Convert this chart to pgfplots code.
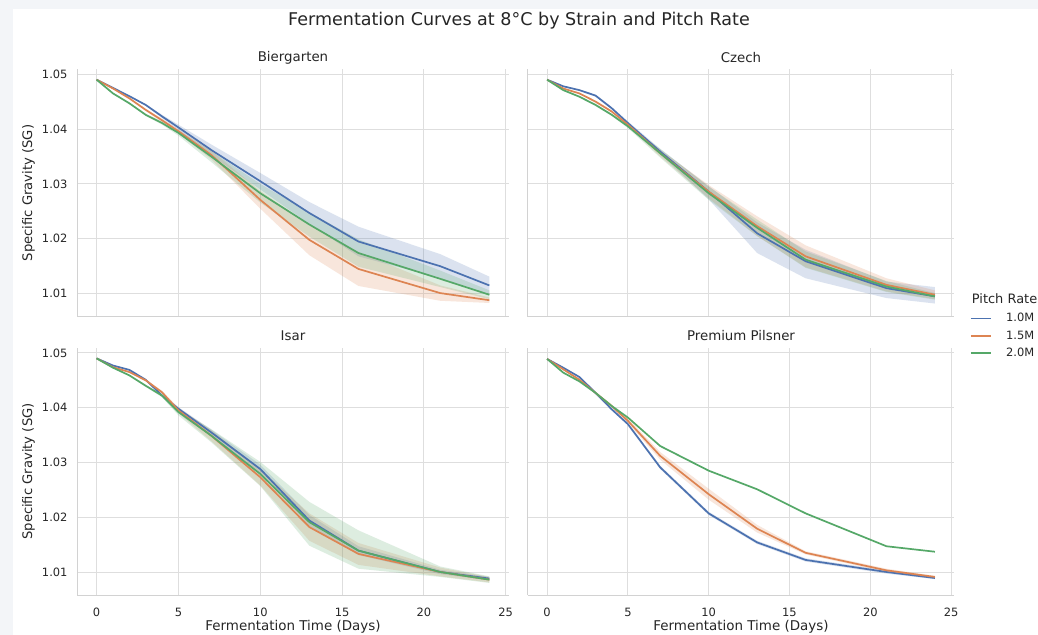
\documentclass[border=0pt]{standalone}
\usepackage{pgfplots}
\pgfplotsset{compat=1.18}
\usepackage{pgfplotstable}
\usepackage{fontspec}
\setmainfont{DejaVu Sans}
\definecolor{cb}{RGB}{76,114,176}
\definecolor{co}{RGB}{221,132,82}
\definecolor{cg}{RGB}{85,168,104}
\definecolor{gridc}{RGB}{222,222,222}
\definecolor{spinec}{RGB}{210,210,210}
\definecolor{txt}{RGB}{38,38,38}
\definecolor{bgc}{RGB}{243,245,248}

% mean curves: day, 1.0M, 1.5M, 2.0M
\pgfplotstableread{
d b o g
0 1.0490 1.0490 1.0490
1 1.0475 1.0474 1.0465
2 1.0460 1.0456 1.0447
3 1.0444 1.0435 1.0426
4 1.0423 1.0416 1.0411
5 1.0403 1.0396 1.0393
7 1.0362 1.0353 1.0350
10 1.0305 1.0271 1.0283
13 1.0247 1.0198 1.0226
16 1.0195 1.0145 1.0174
21 1.0150 1.0101 1.0127
24 1.0115 1.0088 1.0098
}\Bg
\pgfplotstableread{
d b o g
0 1.0490 1.0490 1.0490
1 1.0478 1.0474 1.0471
2 1.0471 1.0465 1.0459
3 1.0461 1.0450 1.0444
4 1.0438 1.0432 1.0426
5 1.0411 1.0408 1.0405
7 1.0359 1.0356 1.0356
10 1.0286 1.0286 1.0283
13 1.0210 1.0223 1.0220
16 1.0159 1.0168 1.0162
21 1.0110 1.0116 1.0113
24 1.0095 1.0098 1.0095
}\Cz
\pgfplotstableread{
d b o g
0 1.0490 1.0490 1.0490
1 1.0477 1.0474 1.0473
2 1.0469 1.0465 1.0459
3 1.0451 1.0450 1.0440
4 1.0422 1.0428 1.0422
5 1.0398 1.0395 1.0392
7 1.0355 1.0349 1.0349
10 1.0288 1.0273 1.0279
13 1.0194 1.0182 1.0191
16 1.0139 1.0133 1.0139
21 1.0100 1.0100 1.0100
24 1.0088 1.0086 1.0086
}\Is
\pgfplotstableread{
d b o g
0 1.0489 1.0489 1.0489
1 1.0473 1.0470 1.0464
2 1.0456 1.0451 1.0448
3 1.0427 1.0427 1.0427
4 1.0397 1.0403 1.0403
5 1.0370 1.0376 1.0382
7 1.0291 1.0312 1.0330
10 1.0207 1.0242 1.0285
13 1.0154 1.0179 1.0251
16 1.0122 1.0135 1.0207
21 1.0100 1.0103 1.0147
24 1.0089 1.0091 1.0137
}\Pp

\newcommand{\mline}[3]{%
  \addplot[#3, line width=1.7bp, forget plot] table[x=d, y=#2] {#1};
}

\pgfplotsset{
  panel/.style={
    scale only axis,
    xmin=-1.2, xmax=25.2, ymin=1.0058, ymax=1.0509,
    xtick={0,5,10,15,20,25},
    ytick={1.01,1.02,1.03,1.04,1.05},
    xticklabels={0,5,10,15,20,25},
    yticklabels={1.01,1.02,1.03,1.04,1.05},
    grid=major,
    grid style={draw=gridc, line width=0.9bp},
    axis lines*=left,
    axis line style={draw=spinec, line width=0.9bp},
    major tick length=0pt,
    tick style={draw=none},
    ticklabel style={font=\fontsize{11.5}{13}\selectfont, text=txt},
    yticklabel style={xshift=-6bp},
    xticklabel style={yshift=-9.5bp},
  },
  nox/.style={xticklabels={}},
  noy/.style={yticklabels={}},
  bandb/.style={fill=cb, fill opacity=0.2, draw=none, forget plot},
  bando/.style={fill=co, fill opacity=0.2, draw=none, forget plot},
  bandg/.style={fill=cg, fill opacity=0.2, draw=none, forget plot},
}

\begin{document}
\begin{tikzpicture}[x=1bp,y=1bp]
\useasboundingbox (0,0) rectangle (1038,635);
\fill[bgc] (0,0) rectangle (1038,635);
\fill[white] (13,0) rectangle (1038,626);

% Top-left: Biergarten
\begin{axis}[panel, nox, at={(77bp,318.3bp)}, anchor=south west, width=432bp, height=247.4bp]
\addplot[bandb] coordinates {(0,1.0491)(1,1.0476)(2,1.0461)(3,1.0445)(4,1.0426)(5,1.0408)(7,1.0372)(10,1.0320)(13,1.0267)(16,1.0222)(21,1.0172)(24,1.0131)
 (24,1.0099)(21,1.0128)(16,1.0168)(13,1.0227)(10,1.0290)(7,1.0352)(5,1.0398)(4,1.0420)(3,1.0443)(2,1.0459)(1,1.0474)(0,1.0489)};
\addplot[bando] coordinates {(0,1.0491)(1,1.0475)(2,1.0457)(3,1.0437)(4,1.0419)(5,1.0400)(7,1.0361)(10,1.0287)(13,1.0226)(16,1.0176)(21,1.0115)(24,1.0093)
 (24,1.0083)(21,1.0087)(16,1.0114)(13,1.0170)(10,1.0255)(7,1.0345)(5,1.0392)(4,1.0413)(3,1.0433)(2,1.0455)(1,1.0473)(0,1.0489)};
\addplot[bandg] coordinates {(0,1.0491)(1,1.0466)(2,1.0448)(3,1.0428)(4,1.0414)(5,1.0398)(7,1.0360)(10,1.0300)(13,1.0248)(16,1.0199)(21,1.0142)(24,1.0106)
 (24,1.0090)(21,1.0112)(16,1.0149)(13,1.0204)(10,1.0266)(7,1.0340)(5,1.0388)(4,1.0408)(3,1.0424)(2,1.0446)(1,1.0464)(0,1.0489)};
\mline{\Bg}{b}{cb}\mline{\Bg}{o}{co}\mline{\Bg}{g}{cg}
\end{axis}

% Top-right: Czech
\begin{axis}[panel, nox, noy, at={(527.7bp,318.3bp)}, anchor=south west, width=426.6bp, height=247.4bp,
  legend style={draw=none, fill=none, at={(axis description cs:1.0363,0.02)}, anchor=north west,
    font=\fontsize{11.5}{13}\selectfont, text=txt, inner sep=0pt, row sep=4.5bp,
    nodes={inner sep=1.5bp},
    /tikz/every odd column/.append style={column sep=13bp}},
  legend cell align=left,
  legend image code/.code={\draw[#1] (0bp,0bp) -- (20bp,0bp);}]
\addplot[bandb] coordinates {(0,1.0491)(1,1.0479)(2,1.0472)(3,1.0463)(4,1.0440)(5,1.0414)(7,1.0364)(10,1.0296)(13,1.0230)(16,1.0180)(21,1.0122)(24,1.0112)
 (24,1.0082)(21,1.0092)(16,1.0128)(13,1.0174)(10,1.0272)(7,1.0354)(5,1.0408)(4,1.0436)(3,1.0459)(2,1.0470)(1,1.0477)(0,1.0489)};
\addplot[bando] coordinates {(0,1.0491)(1,1.0475)(2,1.0466)(3,1.0452)(4,1.0434)(5,1.0411)(7,1.0362)(10,1.0298)(13,1.0241)(16,1.0188)(21,1.0128)(24,1.0106)
 (24,1.0090)(21,1.0104)(16,1.0148)(13,1.0205)(10,1.0274)(7,1.0350)(5,1.0405)(4,1.0430)(3,1.0448)(2,1.0464)(1,1.0473)(0,1.0489)};
\addplot[bandg] coordinates {(0,1.0491)(1,1.0472)(2,1.0460)(3,1.0446)(4,1.0428)(5,1.0408)(7,1.0364)(10,1.0295)(13,1.0235)(16,1.0177)(21,1.0123)(24,1.0101)
 (24,1.0089)(21,1.0103)(16,1.0147)(13,1.0205)(10,1.0271)(7,1.0348)(5,1.0402)(4,1.0424)(3,1.0442)(2,1.0458)(1,1.0470)(0,1.0489)};
\mline{\Cz}{b}{cb}\mline{\Cz}{o}{co}\mline{\Cz}{g}{cg}
\addlegendimage{cb, line width=1.7bp}\addlegendentry{1.0M}
\addlegendimage{co, line width=1.7bp}\addlegendentry{1.5M}
\addlegendimage{cg, line width=1.7bp}\addlegendentry{2.0M}
\end{axis}

% Bottom-left: Isar
\begin{axis}[panel, at={(77bp,40bp)}, anchor=south west, width=432bp, height=247bp]
\addplot[bandb] coordinates {(0,1.0491)(1,1.0478)(2,1.0470)(3,1.0452)(4,1.0424)(5,1.0401)(7,1.0360)(10,1.0296)(13,1.0204)(16,1.0147)(21,1.0104)(24,1.0091)
 (24,1.0085)(21,1.0096)(16,1.0131)(13,1.0184)(10,1.0280)(7,1.0350)(5,1.0395)(4,1.0420)(3,1.0450)(2,1.0468)(1,1.0476)(0,1.0489)};
\addplot[bando] coordinates {(0,1.0491)(1,1.0475)(2,1.0466)(3,1.0452)(4,1.0431)(5,1.0400)(7,1.0359)(10,1.0288)(13,1.0207)(16,1.0153)(21,1.0108)(24,1.0091)
 (24,1.0081)(21,1.0092)(16,1.0113)(13,1.0157)(10,1.0258)(7,1.0339)(5,1.0390)(4,1.0425)(3,1.0448)(2,1.0464)(1,1.0473)(0,1.0489)};
\addplot[bandg] coordinates {(0,1.0491)(1,1.0474)(2,1.0460)(3,1.0442)(4,1.0425)(5,1.0398)(7,1.0361)(10,1.0301)(13,1.0228)(16,1.0176)(21,1.0110)(24,1.0092)
 (24,1.0080)(21,1.0091)(16,1.0106)(13,1.0148)(10,1.0257)(7,1.0337)(5,1.0386)(4,1.0419)(3,1.0438)(2,1.0458)(1,1.0472)(0,1.0489)};
\mline{\Is}{b}{cb}\mline{\Is}{o}{co}\mline{\Is}{g}{cg}
\end{axis}

% Bottom-right: Premium Pilsner
\begin{axis}[panel, noy, at={(527.7bp,40bp)}, anchor=south west, width=426.6bp, height=247bp]
\addplot[bandb] coordinates {(0,1.0490)(1,1.0474)(2,1.0457)(3,1.0429)(4,1.0399)(5,1.0372)(7,1.0294)(10,1.0210)(13,1.0157)(16,1.0125)(21,1.0103)(24,1.0091)
 (24,1.0087)(21,1.0097)(16,1.0119)(13,1.0151)(10,1.0204)(7,1.0288)(5,1.0368)(4,1.0395)(3,1.0425)(2,1.0455)(1,1.0472)(0,1.0488)};
\addplot[bando] coordinates {(0,1.0490)(1,1.0471)(2,1.0452)(3,1.0429)(4,1.0406)(5,1.0380)(7,1.0319)(10,1.0252)(13,1.0186)(16,1.0138)(21,1.0106)(24,1.0093)
 (24,1.0089)(21,1.0100)(16,1.0132)(13,1.0172)(10,1.0232)(7,1.0305)(5,1.0372)(4,1.0400)(3,1.0425)(2,1.0450)(1,1.0469)(0,1.0488)};
\mline{\Pp}{b}{cb}\mline{\Pp}{o}{co}\mline{\Pp}{g}{cg}
\end{axis}

% Titles and labels
\node[font=\fontsize{17.6}{20}\selectfont, text=txt] at (519,614) {Fermentation Curves at 8°C by Strain and Pitch Rate};
\node[font=\fontsize{13.4}{15}\selectfont, text=txt] at (293,577.5) {Biergarten};
\node[font=\fontsize{13.4}{15}\selectfont, text=txt] at (741,577.5) {Czech};
\node[font=\fontsize{13.4}{15}\selectfont, text=txt] at (293,299.5) {Isar};
\node[font=\fontsize{13.4}{15}\selectfont, text=txt] at (741,299.5) {Premium Pilsner};
\node[font=\fontsize{13.2}{15}\selectfont, text=txt, rotate=90] at (28.5,442) {Specific Gravity (SG)};
\node[font=\fontsize{13.2}{15}\selectfont, text=txt, rotate=90] at (28.5,163.5) {Specific Gravity (SG)};
\node[font=\fontsize{13.5}{15}\selectfont, text=txt] at (293,8) {Fermentation Time (Days)};
\node[font=\fontsize{13.5}{15}\selectfont, text=txt] at (741,8) {Fermentation Time (Days)};
\node[font=\fontsize{13}{15}\selectfont, text=txt, anchor=west, inner sep=0pt] at (971.7,336) {Pitch Rate};
\end{tikzpicture}
\end{document}
